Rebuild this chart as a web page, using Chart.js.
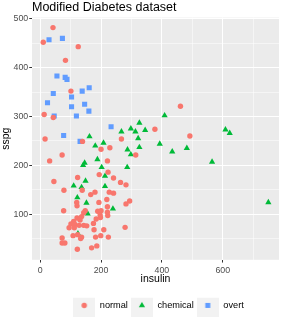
<!DOCTYPE html>
<html><head><meta charset="utf-8">
<script src="https://cdn.jsdelivr.net/npm/chart.js@4.4.0/dist/chart.umd.min.js"></script>
<style>html,body{margin:0;padding:0;background:#fff}#wrap{width:283px;height:322px}</style>
</head><body><div id="wrap"><canvas id="c" width="283" height="322"></canvas></div>
<script>
const chartTitle = 'Modified Diabetes dataset';
const xTitle = 'insulin';
const yTitle = 'sspg';
const groups = ['normal', 'chemical', 'overt'];

const normalInsulin = [42,10,125,83,101,13,43,16,139,72,200,229,267,314,461,377,492,
  31,45,78,77,221,194,223,241,123,264,282,138,166,180,227,241,120,121,193,219,221,294,282,
  148,143,189,200,197,221,222,184,198,136,121,131,110,101,114,128,143,153,175,95,112,177,209,279,
  123,108,136,133,182,199,224,72,72,81,186,169,122];
const normalSspg = [482,452,443,415,352,304,298,254,249,221,233,236,254,221,321,274,260,
  209,167,149,107,209,181,186,174,175,165,160,149,140,145,145,143,124,117,124,130,115,127,121,
  107,103,106,107,98,104,97,90,93,95,92,88,85,80,79,77,77,76,81,72,72,68,68,73,
  58,56,53,50,53,56,53,51,41,41,35,31,28];

const chemicalInsulin = [162,181,208,267,298,313,326,345,322,287,298,326,409,609,623,393,434,482,565,750,
  286,110,122,136,141,146,149,152,156,124,188,202,213,213,239];
const chemicalSspg = [259,240,246,269,275,269,287,272,255,232,222,237,302,273,266,244,228,235,207,124,
  196,158,134,155,200,205,168,123,101,60,212,196,178,157,111];

const overtInsulin = [29,73,55,82,88,161,138,43,103,24,146,103,160,46,119,233,77,131];
const overtSspg = [457,460,383,380,376,359,352,347,340,328,325,320,311,301,301,279,261,249];

const xMajor = [0,200,400,600];
const xMinor = [100,300,500,700];
const yMajor = [100,200,300,400,500];
const yMinor = [50,150,250,350,450];

const colors = ['#F8766D','#00BA38','#619CFF'];
const styles = ['circle','triangle','rect'];
const radii = [2.7,3.6,3.6];
const FONT = "'Liberation Sans', Arial, sans-serif";

function makeKey(i){
  const c = document.createElement('canvas');
  c.width = 22; c.height = 23;
  const g = c.getContext('2d');
  g.fillStyle = '#F2F2F2'; g.fillRect(0,0,22,23);
  g.fillStyle = colors[i];
  const cx = 11, cy = 11.5;
  if (styles[i]==='circle'){ g.beginPath(); g.arc(cx,cy,2.7,0,Math.PI*2); g.fill(); }
  else if (styles[i]==='triangle'){ const r=3.6; g.beginPath(); g.moveTo(cx,cy-r); g.lineTo(cx+r*0.866,cy+r*0.5); g.lineTo(cx-r*0.866,cy+r*0.5); g.closePath(); g.fill(); }
  else { g.fillRect(cx-2.5,cy-2.5,5,5); }
  return c;
}
const keys = [0,1,2].map(makeKey);

function pts(xs, ys){ return xs.map((x,i)=>({x:x, y:ys[i]})); }
const series = [[normalInsulin,normalSspg],[chemicalInsulin,chemicalSspg],[overtInsulin,overtSspg]];

const datasets = groups.map((g,i)=>({
  label: g,
  data: pts(series[i][0], series[i][1]),
  pointStyle: styles[i],
  pointRadius: radii[i],
  backgroundColor: colors[i],
  borderWidth: 0,
  order: i
}));

const panelBg = {
  id: 'panelBg',
  afterLayout(chart){
    if (chart.legend) { chart.legend.left += 3; chart.legend.right += 3; }
  },
  beforeDraw(chart){
    const {ctx, chartArea:a} = chart;
    ctx.save(); ctx.fillStyle = '#EBEBEB';
    ctx.fillRect(a.left, a.top, a.right-a.left, a.bottom-a.top);
    ctx.restore();
  }
};

function isMajor(ctx, list){ return ctx.tick && list.includes(ctx.tick.value); }

new Chart(document.getElementById('c'), {
  type: 'scatter',
  data: { datasets },
  plugins: [panelBg],
  options: {
    responsive: false,
    devicePixelRatio: 1,
    animation: false,
    events: [],
    layout: { padding: { top: 0, left: 0, right: 3, bottom: 2 } },
    plugins: {
      tooltip: { enabled: false },
      title: {
        display: true, text: chartTitle, align: 'start', fullSize: false,
        color: '#000', font: { family: FONT, size: 12.5, weight: 'normal' },
        padding: { top: 0, bottom: 2.6 }
      },
      legend: {
        position: 'bottom', fullSize: false, align: 'center',
        labels: {
          usePointStyle: true, pointStyleWidth: 22, padding: 3,
          color: '#000', font: { family: FONT, size: 9.2 },
          generateLabels: (chart) => chart.data.datasets.map((ds,i)=>({
            text: ds.label, pointStyle: keys[i], fillStyle: colors[i],
            strokeStyle: 'rgba(0,0,0,0)', lineWidth: 0, datasetIndex: i, hidden: false, fontColor: '#000'
          }))
        }
      }
    },
    scales: {
      x: {
        type: 'linear', min: -27, max: 785,
        afterBuildTicks: s => { s.ticks = [...xMajor, ...xMinor].sort((a,b)=>a-b).map(v=>({value:v})); },
        afterFit: s => { s.height = 38; },
        ticks: { autoSkip: false, maxRotation: 0, padding: 2.5, color: '#4D4D4D',
          font: { family: FONT, size: 8.8 },
          callback: v => xMajor.includes(v) ? String(v) : '' },
        grid: { color: '#FFFFFF', lineWidth: c => isMajor(c, xMajor) ? 1 : 0.5,
          tickColor: c => isMajor(c, xMajor) ? '#333333' : 'rgba(0,0,0,0)', tickLength: 2.75, tickWidth: 1 },
        border: { display: false },
        title: { display: true, text: xTitle, color: '#000', font: { family: FONT, size: 10.5 },
          padding: { top: 0, bottom: 12.6 } }
      },
      y: {
        type: 'linear', min: 6.5, max: 502.5,
        afterBuildTicks: s => { s.ticks = [...yMajor, ...yMinor].sort((a,b)=>a-b).map(v=>({value:v})); },
        afterFit: s => { s.width = 32; },
        ticks: { autoSkip: false, padding: 1, color: '#4D4D4D',
          font: { family: FONT, size: 8.8 },
          callback: v => yMajor.includes(v) ? String(v) : '' },
        grid: { color: '#FFFFFF', lineWidth: c => isMajor(c, yMajor) ? 1 : 0.5,
          tickColor: c => isMajor(c, yMajor) ? '#333333' : 'rgba(0,0,0,0)', tickLength: 2.75, tickWidth: 1 },
        border: { display: false },
        title: { display: true, text: yTitle, color: '#000', font: { family: FONT, size: 10.5 },
          padding: { top: 0, bottom: 0 } }
      }
    }
  }
});
</script></body></html>
